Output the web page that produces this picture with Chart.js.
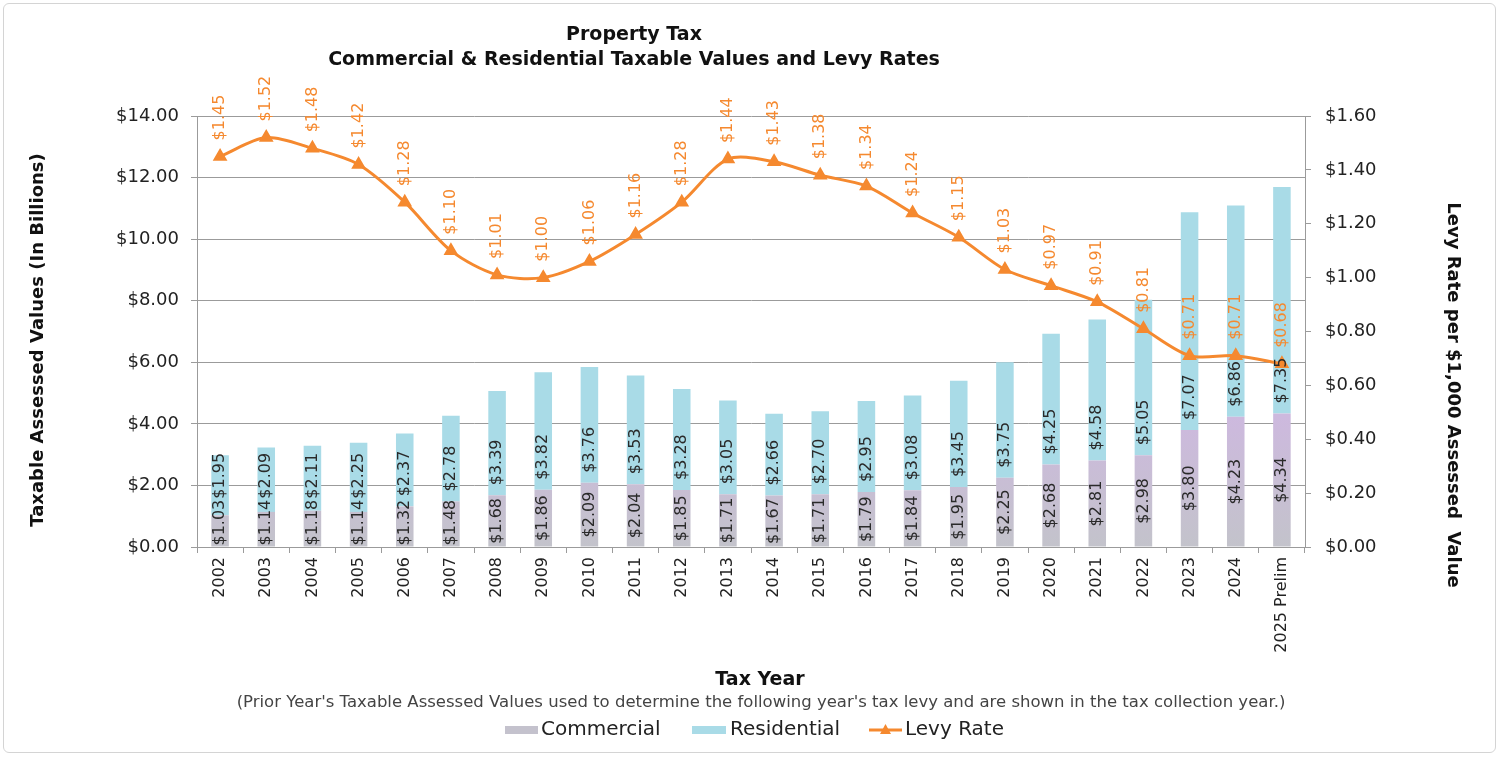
<!DOCTYPE html>
<html><head><meta charset="utf-8">
<script src="https://cdn.jsdelivr.net/npm/chart.js@4.4.1/dist/chart.umd.min.js"></script>
<style>
html,body{margin:0;padding:0;background:#fff;}
#wrap{position:relative;width:1501px;height:757px;}
#frame{position:absolute;left:3px;top:3px;width:1493px;height:750px;border:1px solid #d4d4d4;border-radius:6px;box-sizing:border-box;pointer-events:none}
canvas{position:absolute;left:0;top:0}
</style></head><body>
<div id="wrap"><canvas id="c" width="1501" height="757"></canvas><div id="frame"></div></div>
<script>
const years = ['2002','2003','2004','2005','2006','2007','2008','2009','2010','2011','2012','2013','2014','2015','2016','2017','2018','2019','2020','2021','2022','2023','2024','2025 Prelim'];
const commercial = [1.03,1.14,1.18,1.14,1.32,1.48,1.68,1.86,2.09,2.04,1.85,1.71,1.67,1.71,1.79,1.84,1.95,2.25,2.68,2.81,2.98,3.80,4.23,4.34];
const residential = [1.95,2.09,2.11,2.25,2.37,2.78,3.39,3.82,3.76,3.53,3.28,3.05,2.66,2.70,2.95,3.08,3.45,3.75,4.25,4.58,5.05,7.07,6.86,7.35];
const levyRate = [1.45,1.52,1.48,1.42,1.28,1.10,1.01,1.00,1.06,1.16,1.28,1.44,1.43,1.38,1.34,1.24,1.15,1.03,0.97,0.91,0.81,0.71,0.71,0.68];
const leftAxis = {min:0, max:14, step:2};
const rightAxis = {min:0, max:1.6, step:0.2};
const titleLines = ['Property Tax','Commercial & Residential Taxable Values and Levy Rates'];
const leftTitle = 'Taxable Assessed Values (In Billions)';
const rightTitle = 'Levy Rate per $1,000 Assessed  Value';
const xTitle = 'Tax Year';
const note = "(Prior Year's Taxable Assessed Values used to determine the following year's tax levy and are shown in the tax collection year.)";
const legendNames = ['Commercial','Residential','Levy Rate'];

const FONT = '"DejaVu Sans", sans-serif';
const ORANGE = '#F5892F';
const GRID = '#9b9b9b';
const money = v => '$' + Number(v).toFixed(2);

function commFill(ctx){
  const ch = ctx.chart; const a = ch.chartArea;
  if(!a) return '#c6c0d6';
  const g = ch.ctx.createLinearGradient(0, a.bottom, 0, a.bottom - 130);
  g.addColorStop(0, '#c3c3cb');
  g.addColorStop(1, '#cdb9de');
  return g;
}
function drawUp(ctx, txt, x, yBottom){
  ctx.save(); ctx.translate(x, yBottom); ctx.rotate(-Math.PI/2);
  ctx.fillText(txt, 0, 0); ctx.restore();
}

const labelsPlugin = {
  id: 'labelsPlugin',
  afterDatasetsDraw(chart){
    const ctx = chart.ctx;
    ctx.save();
    ctx.font = '16px ' + FONT;
    ctx.textBaseline = 'middle';
    ctx.textAlign = 'left';
    const m0 = chart.getDatasetMeta(0), m1 = chart.getDatasetMeta(1), m2 = chart.getDatasetMeta(2);
    m0.data.forEach((el, i) => {
      const t0 = money(commercial[i]);
      const w0 = ctx.measureText(t0).width;
      const center = (el.base + el.y) / 2;
      const b0 = Math.min(el.base - 1, center + w0 / 2);
      ctx.fillStyle = '#2a2a2a';
      drawUp(ctx, t0, el.x, b0);
      const el1 = m1.data[i];
      const t1 = money(residential[i]);
      const b1 = Math.min(el1.base - 10, b0 - w0 - 1);
      drawUp(ctx, t1, el1.x, b1);
    });
    ctx.fillStyle = ORANGE;
    m2.data.forEach((el, i) => {
      drawUp(ctx, money(levyRate[i]), el.x, el.y - 16);
    });
    ctx.restore();
  },
  afterDraw(chart){
    const ctx = chart.ctx;
    ctx.save();
    ctx.fillStyle = '#111';
    ctx.textAlign = 'center';
    ctx.textBaseline = 'middle';
    ctx.font = 'bold 19px ' + FONT;
    ctx.fillText(titleLines[0], 634, 35);
    ctx.fillText(titleLines[1], 634, 60);
    ctx.save(); ctx.translate(38, 340); ctx.rotate(-Math.PI/2);
    ctx.font = 'bold 18px ' + FONT; ctx.fillText(leftTitle, 0, 0); ctx.restore();
    ctx.save(); ctx.translate(1453, 395); ctx.rotate(Math.PI/2);
    ctx.font = 'bold 18px ' + FONT; ctx.fillText(rightTitle, 0, 0); ctx.restore();
    ctx.font = 'bold 19px ' + FONT;
    ctx.fillText(xTitle, 760, 680);
    ctx.font = '16.5px ' + FONT; ctx.fillStyle = '#444';
    ctx.fillText(note, 761, 703);
    const ly = 730;
    ctx.textAlign = 'left';
    ctx.font = '20px ' + FONT;
    ctx.fillStyle = '#c4c2cd'; ctx.fillRect(505, ly - 4, 33, 8);
    ctx.fillStyle = '#222'; ctx.fillText(legendNames[0], 541, ly);
    ctx.fillStyle = '#a9dbe7'; ctx.fillRect(692, ly - 4, 34, 8);
    ctx.fillStyle = '#222'; ctx.fillText(legendNames[1], 730, ly);
    ctx.strokeStyle = ORANGE; ctx.lineWidth = 3;
    ctx.beginPath(); ctx.moveTo(869, ly); ctx.lineTo(902, ly); ctx.stroke();
    ctx.fillStyle = ORANGE;
    ctx.beginPath(); ctx.moveTo(885.5, ly - 6); ctx.lineTo(891, ly + 4); ctx.lineTo(880, ly + 4); ctx.closePath(); ctx.fill();
    ctx.fillStyle = '#222'; ctx.fillText(legendNames[2], 905, ly);
    ctx.restore();
  }
};

new Chart(document.getElementById('c'), {
  data: {
    labels: years,
    datasets: [
      {type:'bar', label: legendNames[0], data: commercial, backgroundColor: commFill, stack:'s', yAxisID:'y', order:2, categoryPercentage:1, barPercentage:0.38},
      {type:'bar', label: legendNames[1], data: residential, backgroundColor: '#a9dbe7', stack:'s', yAxisID:'y', order:2, categoryPercentage:1, barPercentage:0.38},
      {type:'line', label: legendNames[2], data: levyRate, yAxisID:'y1', order:1, borderColor: ORANGE, backgroundColor: ORANGE, borderWidth:3, tension:0.3, pointStyle:'triangle', pointRadius:5.5, pointBackgroundColor: ORANGE, pointBorderColor: ORANGE}
    ]
  },
  options: {
    responsive:false, animation:false, devicePixelRatio:1,
    layout:{padding:{top:116, left:0, right:0, bottom:0}},
    plugins:{legend:{display:false}, title:{display:false}, tooltip:{enabled:false}},
    scales:{
      x:{stacked:true, offset:true,
        grid:{display:true, drawOnChartArea:false, drawTicks:true, tickLength:6, color:GRID, offset:true},
        border:{display:true, color:GRID},
        ticks:{autoSkip:false, minRotation:90, maxRotation:90, padding:4, color:'#222', font:{family:FONT, size:16}},
        afterFit(s){ s.height = 210; }
      },
      y:{position:'left', stacked:true, min:leftAxis.min, max:leftAxis.max,
        grid:{color:GRID, tickLength:6},
        border:{display:true, color:GRID},
        ticks:{stepSize:leftAxis.step, padding:12, color:'#222', font:{family:FONT, size:18}, callback:v=>money(v)},
        afterFit(s){ s.width = 197; }
      },
      y1:{position:'right', min:rightAxis.min, max:rightAxis.max,
        grid:{drawOnChartArea:false, color:GRID, tickLength:6},
        border:{display:true, color:GRID},
        ticks:{stepSize:rightAxis.step, padding:14, color:'#222', font:{family:FONT, size:18}, callback:v=>money(v)},
        afterFit(s){ s.width = 196; }
      }
    }
  },
  plugins:[labelsPlugin]
});
</script>
</body></html>
